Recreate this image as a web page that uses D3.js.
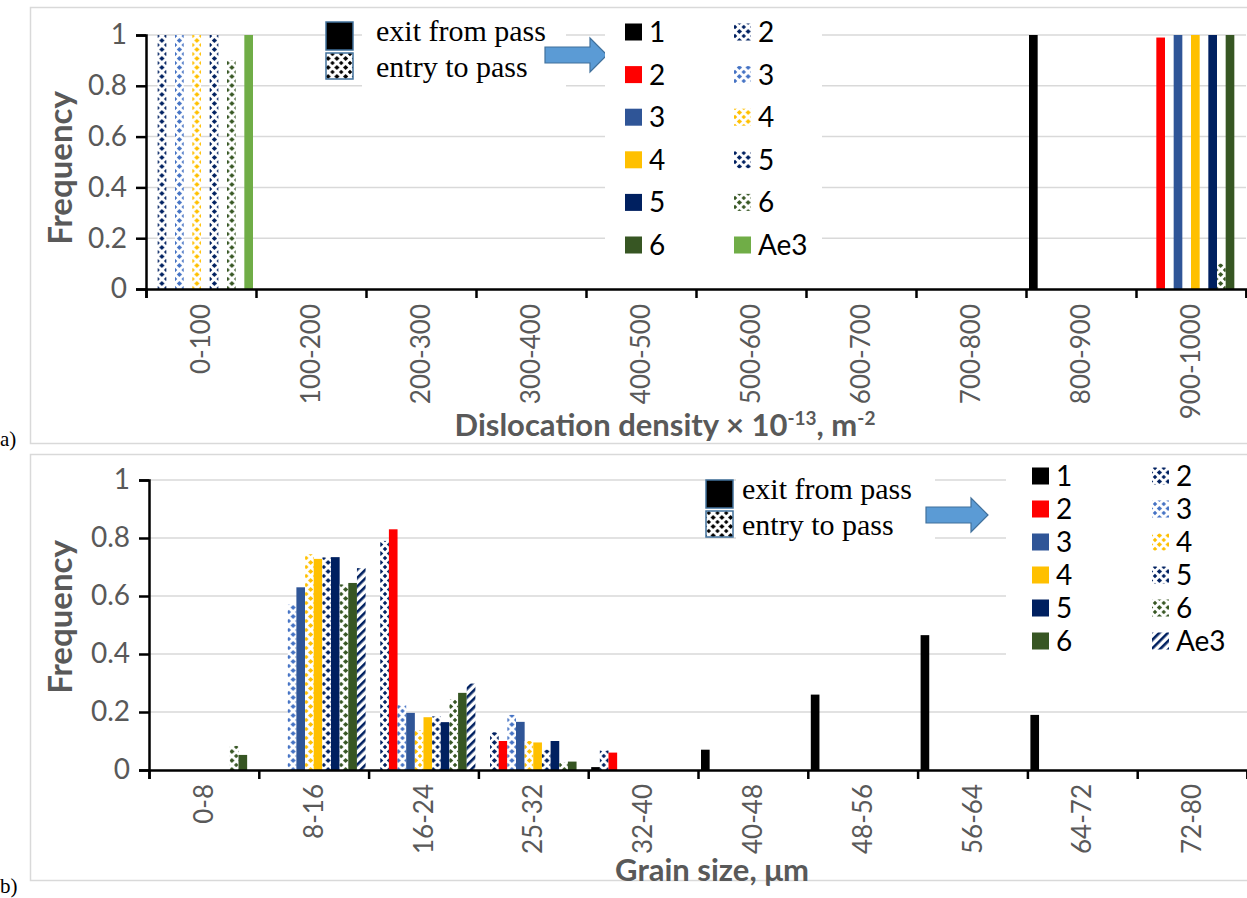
<!DOCTYPE html>
<html>
<head>
<meta charset="utf-8">
<script src="https://cdn.jsdelivr.net/npm/d3@7"></script>
<style>
  body { margin: 0; background: #fff; }
  svg { display: block; }
</style>
</head>
<body>
<script>
// ---- data ----
const dislocCats = ['0-100', '100-200', '200-300', '300-400', '400-500', '500-600', '600-700', '700-800', '800-900', '900-1000']
const grainCats = ['0-8', '8-16', '16-24', '25-32', '32-40', '40-48', '48-56', '56-64', '64-72', '72-80']

const passColors = ['#000000', '#ff0000', '#2f5597', '#ffc000', '#002060', '#375623']
const entryColors = [null, '#002060', '#4472c4', '#ffc000', '#002060', '#375623']

// exit from pass, passes 1..6
const dislocExit = [
  [0, 0, 0, 0, 0, 0, 0, 0, 1, 0],
  [0, 0, 0, 0, 0, 0, 0, 0, 0, 0.99],
  [0, 0, 0, 0, 0, 0, 0, 0, 0, 1],
  [0, 0, 0, 0, 0, 0, 0, 0, 0, 1],
  [0, 0, 0, 0, 0, 0, 0, 0, 0, 1],
  [0, 0, 0, 0, 0, 0, 0, 0, 0, 1]
]
// entry to pass, passes 2..6
const dislocEntry = [
  [1, 0, 0, 0, 0, 0, 0, 0, 0, 0],
  [1, 0, 0, 0, 0, 0, 0, 0, 0, 0],
  [1, 0, 0, 0, 0, 0, 0, 0, 0, 0],
  [1, 0, 0, 0, 0, 0, 0, 0, 0, 0],
  [0.9, 0, 0, 0, 0, 0, 0, 0, 0, 0.1]
]
const dislocAe3 = [1, 0, 0, 0, 0, 0, 0, 0, 0, 0]

const grainExit = [
  [0, 0, 0, 0, 0.01, 0.07, 0.26, 0.465, 0.19, 0],
  [0, 0, 0.83, 0.10, 0.06, 0, 0, 0, 0, 0],
  [0, 0.63, 0.197, 0.166, 0, 0, 0, 0, 0, 0],
  [0, 0.728, 0.182, 0.095, 0, 0, 0, 0, 0, 0],
  [0, 0.734, 0.165, 0.10, 0, 0, 0, 0, 0, 0],
  [0.052, 0.645, 0.266, 0.029, 0, 0, 0, 0, 0, 0]
]
const grainEntry = [
  [0, 0, 0.79, 0.13, 0.067, 0, 0, 0, 0, 0],
  [0, 0.57, 0.223, 0.19, 0, 0, 0, 0, 0, 0],
  [0, 0.744, 0.137, 0.10, 0, 0, 0, 0, 0, 0],
  [0, 0.733, 0.185, 0.07, 0, 0, 0, 0, 0, 0],
  [0.083, 0.64, 0.243, 0.025, 0, 0, 0, 0, 0, 0]
]
const grainAe3 = [0, 0.696, 0.298, 0, 0, 0, 0, 0, 0, 0]

const yTicks = [0, 0.2, 0.4, 0.6, 0.8, 1]

const W = 1247
const H = 898
const sans = 'Lato, "Open Sans", sans-serif'
const serif = '"Liberation Serif", "Times New Roman", serif'
const gray = '#595959'

const svg = d3.select('body').append('svg')
  .attr('width', W)
  .attr('height', H)
svg.append('rect').attr('width', W).attr('height', H).attr('fill', '#fff')

const defs = svg.append('defs')

// dotted-diamond pattern used by Excel for the "entry to pass" series
function dotPattern (id, color) {
  const p = defs.append('pattern')
    .attr('id', id)
    .attr('patternUnits', 'userSpaceOnUse')
    .attr('width', 8.75)
    .attr('height', 9)
  p.append('rect').attr('width', 8.75).attr('height', 9).attr('fill', '#fff')
  const dia = (cx, cy, r) => `M${cx - r},${cy}L${cx},${cy - r}L${cx + r},${cy}L${cx},${cy + r}Z`
  p.append('path').attr('d', dia(4.4, 4.5, 2.6)).attr('fill', color)
  p.append('path').attr('d', dia(0, 0, 2.2) + dia(8.75, 0, 2.2) + dia(0, 9, 2.2) + dia(8.75, 9, 2.2))
    .attr('fill', color)
  return `url(#${id})`
}
function stripePattern (id, color) {
  const p = defs.append('pattern')
    .attr('id', id)
    .attr('patternUnits', 'userSpaceOnUse')
    .attr('width', 6)
    .attr('height', 6)
    .attr('patternTransform', 'rotate(45)')
  p.append('rect').attr('width', 6).attr('height', 6).attr('fill', '#fff')
  p.append('rect').attr('width', 2.6).attr('height', 6).attr('fill', color)
  return `url(#${id})`
}

// build the 12 interleaved series: 1, e2, 2, e3, 3, ... e6, 6, Ae3
function buildSeries (exit, entry, ae3, ae3Fill) {
  const out = [{ id: 'x1', values: exit[0], fill: passColors[0] }]
  for (let i = 1; i < 6; i++) {
    out.push({ id: 'e' + (i + 1), values: entry[i - 1], fill: dotPattern('p' + ae3Fill.tag + i, entryColors[i]) })
    out.push({ id: 'x' + (i + 1), values: exit[i], fill: passColors[i] })
  }
  out.push({ id: 'ae3', values: ae3, fill: ae3Fill.fill })
  return out
}

function drawPanel (opt) {
  const g = svg.append('g')
  const x = d3.scaleBand().domain(opt.cats).range([opt.left, opt.right])
  const xs = d3.scaleBand().domain(opt.series.map(s => s.id)).range([3, x.bandwidth() - 3])
  const y = d3.scaleLinear().domain([0, 1]).range([opt.bottom, opt.top])

  // panel frame
  g.append('rect')
    .attr('x', 30.5).attr('y', opt.frame[0] + 0.5)
    .attr('width', W).attr('height', opt.frame[1] - opt.frame[0])
    .attr('fill', 'none').attr('stroke', '#d9d9d9').attr('stroke-width', 1.5)

  // gridlines
  g.selectAll('.grid').data(yTicks.filter(d => d > 0)).enter()
    .append('line')
    .attr('x1', opt.left).attr('x2', opt.right)
    .attr('y1', d => y(d)).attr('y2', d => y(d))
    .attr('stroke', '#d9d9d9').attr('stroke-width', 1.5)

  // bars
  opt.series.forEach(s => {
    g.append('g').selectAll('rect')
      .data(s.values.map((v, i) => ({ cat: opt.cats[i], v })).filter(d => d.v > 0))
      .enter()
      .append('rect')
      .attr('x', d => x(d.cat) + xs(s.id))
      .attr('y', d => y(d.v))
      .attr('width', xs.bandwidth())
      .attr('height', d => y(0) - y(d.v))
      .attr('fill', s.fill)
  })

  // y axis
  const ya = g.append('g')
    .attr('transform', `translate(${opt.left},0)`)
    .call(d3.axisLeft(y).tickValues(yTicks).tickSize(10).tickPadding(9).tickFormat(d => String(d)))
  ya.select('.domain').attr('stroke', '#000').attr('stroke-width', 2.5)
  ya.selectAll('.tick line').attr('stroke', '#000').attr('stroke-width', 2.5)
  ya.selectAll('text').attr('fill', gray).style('font', `28px ${sans}`)

  // x axis: boundary ticks
  const xi = d3.scaleLinear().domain([0, opt.cats.length]).range([opt.left, opt.right])
  const xa = g.append('g')
    .attr('transform', `translate(0,${opt.bottom})`)
    .call(d3.axisBottom(xi).ticks(opt.cats.length).tickSize(9).tickFormat(''))
  xa.select('.domain').attr('stroke', '#000').attr('stroke-width', 2.5)
  xa.selectAll('.tick line').attr('stroke', '#000').attr('stroke-width', 2.5)

  // x labels (rotated)
  g.selectAll('.xl').data(opt.cats).enter()
    .append('text')
    .attr('transform', d => `translate(${x(d) + x.bandwidth() / 2 + 9},${opt.bottom + opt.labelGap}) rotate(-90)`)
    .attr('text-anchor', 'end')
    .attr('fill', gray)
    .style('font', `26px ${sans}`)
    .text(d => d)

  // y title
  g.append('text')
    .attr('transform', `translate(${opt.yTitleX},${(opt.top + opt.bottom) / 2 + opt.yTitleShift}) rotate(-90)`)
    .attr('text-anchor', 'middle')
    .attr('fill', gray)
    .style('font', `bold 33px ${sans}`)
    .text('Frequency')

  return { x, y }
}

function legendBoxes (o) {
  const g = svg.append('g')
  // white text box behind the key text
  g.append('rect').attr('x', o.box[0]).attr('y', o.box[1]).attr('width', o.box[2]).attr('height', o.box[3]).attr('fill', '#fff')
  g.append('rect').attr('x', o.sx).attr('y', o.sy).attr('width', 27).attr('height', 28)
    .attr('fill', '#000').attr('stroke', '#41719c').attr('stroke-width', 1.5)
  g.append('rect').attr('x', o.sx).attr('y', o.sy + 31).attr('width', 27).attr('height', 26)
    .attr('fill', o.dots).attr('stroke', '#41719c').attr('stroke-width', 1.5)
  g.append('text').attr('x', o.sx + o.tx).attr('y', o.sy + 19).style('font', `30px ${serif}`).attr('fill', '#000').text('exit from pass')
  g.append('text').attr('x', o.sx + o.tx).attr('y', o.sy + 55).style('font', `30px ${serif}`).attr('fill', '#000').text('entry to pass')
  // block arrow
  const a = o.arrow
  g.append('path')
    .attr('d', `M${a.x},${a.cy - 8}L${a.x + a.shaft},${a.cy - 8}L${a.x + a.shaft},${a.cy - a.hh}L${a.x + a.len},${a.cy}L${a.x + a.shaft},${a.cy + a.hh}L${a.x + a.shaft},${a.cy + 8}L${a.x},${a.cy + 8}Z`)
    .attr('fill', '#5b9bd5').attr('stroke', '#41719c').attr('stroke-width', 1.2)
}

function seriesLegend (o, ae3Fill) {
  const g = svg.append('g')
  g.append('rect').attr('x', o.box[0]).attr('y', o.box[1]).attr('width', o.box[2]).attr('height', o.box[3]).attr('fill', '#fff')
  const left = passColors.map((c, i) => ({ fill: c, label: String(i + 1) }))
  const right = entryColors.slice(1).map((c, i) => ({ fill: dotPattern('lg' + o.tag + i, c), label: String(i + 2) }))
  right.push({ fill: ae3Fill, label: 'Ae3' })
  ;[left, right].forEach((col, ci) => {
    col.forEach((d, i) => {
      const cy = o.y0 + i * o.dy
      g.append('rect').attr('x', o.cols[ci]).attr('y', cy - 8.5).attr('width', 17).attr('height', 17).attr('fill', d.fill)
      g.append('text').attr('x', o.cols[ci] + 24).attr('y', cy + 10)
        .style('font', `28px ${sans}`).attr('fill', '#000').text(d.label)
    })
  })
}

// ---- panel a ----
const dislocSeries = buildSeries(dislocExit, dislocEntry, dislocAe3, { tag: 'a', fill: '#70ad47' })
drawPanel({
  cats: dislocCats, series: dislocSeries,
  left: 146, right: 1246, top: 35, bottom: 289,
  frame: [7, 443], labelGap: 15, yTitleX: 72, yTitleShift: 6
})
const ta = svg.append('text')
  .attr('x', 665).attr('y', 436)
  .attr('text-anchor', 'middle').attr('fill', gray)
  .style('font', `bold 31px ${sans}`)
ta.append('tspan').text('Dislocation density \u00d7 10')
ta.append('tspan').attr('dy', -11).style('font-size', '19px').text('-13')
ta.append('tspan').attr('dy', 11).text(', m')
ta.append('tspan').attr('dy', -11).style('font-size', '19px').text('-2')

legendBoxes({
  box: [362, 15, 204, 80], sx: 326, sy: 22, tx: 50, dots: dotPattern('keyA', '#000'),
  arrow: { x: 545, cy: 55, shaft: 45, len: 62, hh: 17 }
})
seriesLegend({ tag: 'a', box: [605, 12, 217, 255], cols: [625, 734], y0: 32, dy: 42.6 }, '#70ad47')

// ---- panel b ----
const ae3Stripes = stripePattern('ae3s', '#002060')
const grainSeries = buildSeries(grainExit, grainEntry, grainAe3, { tag: 'b', fill: ae3Stripes })
drawPanel({
  cats: grainCats, series: grainSeries,
  left: 149, right: 1247, top: 480, bottom: 770,
  frame: [454, 880], labelGap: 14, yTitleX: 72, yTitleShift: -8
})
svg.append('text')
  .attr('x', 712).attr('y', 881)
  .attr('text-anchor', 'middle').attr('fill', gray)
  .style('font', `bold 31px ${sans}`)
  .text('Grain size, \u03bcm')

legendBoxes({
  box: [736, 468, 199, 80], sx: 706, sy: 480, tx: 36, dots: dotPattern('keyB', '#000'),
  arrow: { x: 926, cy: 515, shaft: 45, len: 62, hh: 17 }
})
seriesLegend({ tag: 'b', box: [1006, 458, 241, 200], cols: [1032, 1152], y0: 476, dy: 33 }, ae3Stripes)

// panel letters
svg.append('text').attr('x', 0).attr('y', 446).style('font', `21px ${serif}`).text('a)')
svg.append('text').attr('x', 0).attr('y', 893).style('font', `21px ${serif}`).text('b)')
</script>
</body>
</html>
